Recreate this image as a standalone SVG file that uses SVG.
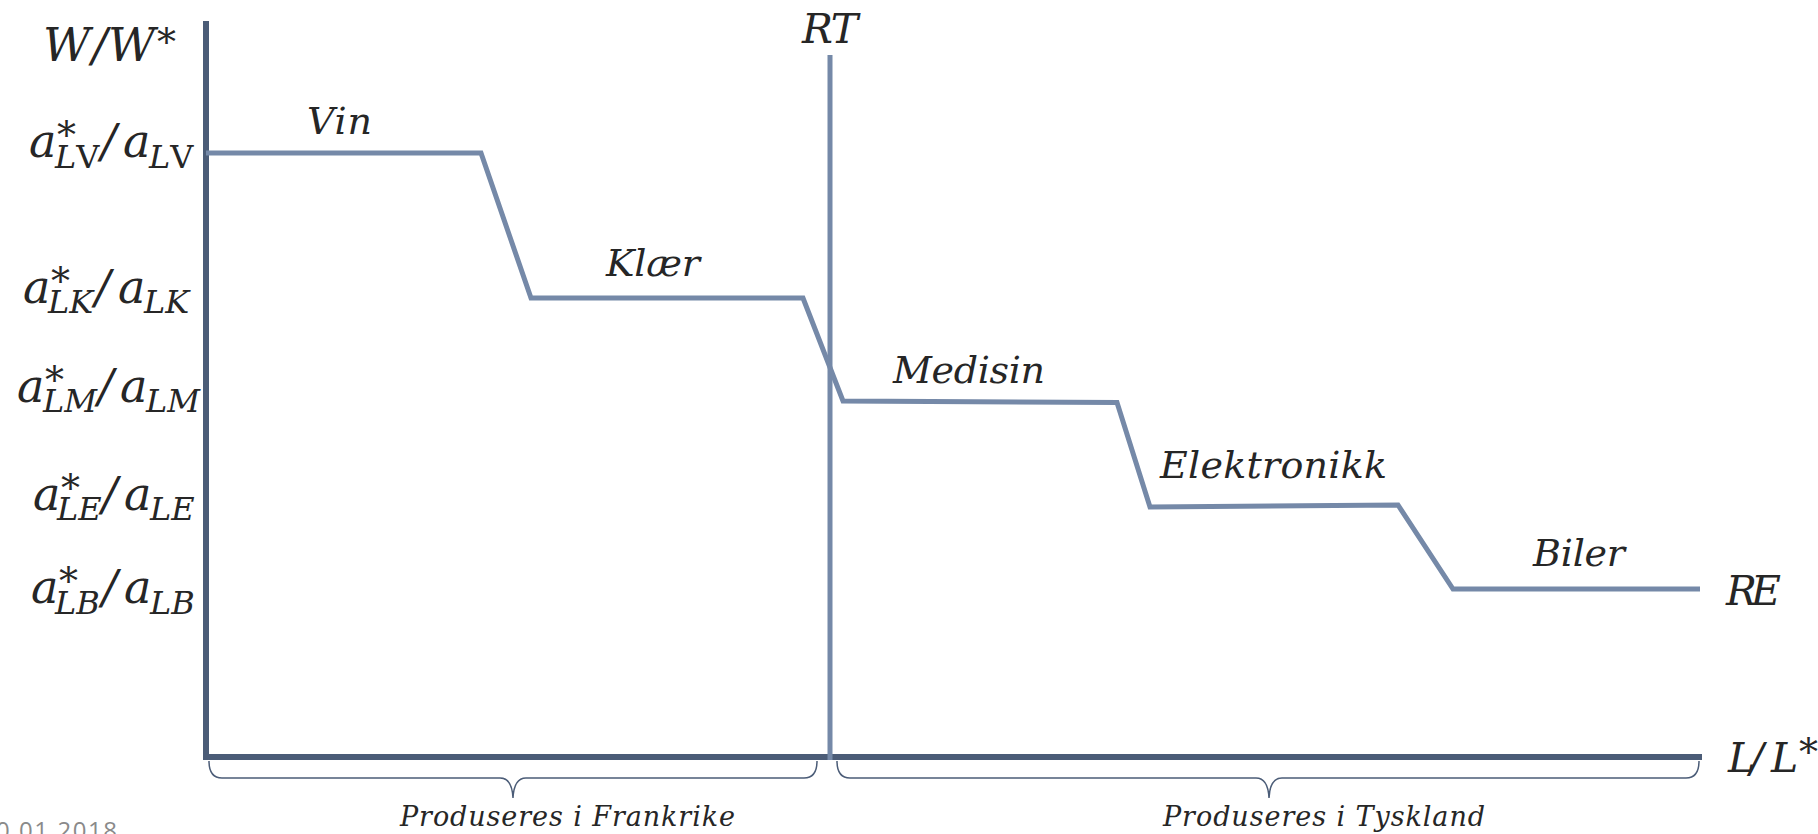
<svg xmlns="http://www.w3.org/2000/svg" width="1818" height="834" viewBox="0 0 1818 834">
<style>
.m{font-family:"DejaVu Serif","Liberation Serif",serif;font-style:italic;fill:#262626}
.big{font-size:46px}
.lab{font-size:41px}
.sub{font-size:32px}
.ast{font-size:38px}
.curl{font-size:38px}
.brl{font-size:27px}
.up{font-style:normal}
.axis{stroke:#4b5c77;stroke-width:6;fill:none}
.curve{stroke:#7589a8;stroke-width:5;fill:none;stroke-linejoin:miter}
.brace{stroke:#4b5c77;stroke-width:1.5;fill:none}
.date{font-family:"Open Sans","Liberation Sans",sans-serif;font-size:24px;fill:#8a8a8a}
</style>
<rect width="1818" height="834" fill="#ffffff"/>
<g id="axes">
<line class="axis" x1="206" y1="21" x2="206" y2="760"/>
<line class="axis" x1="203" y1="757" x2="1702" y2="757"/>
</g>
<g id="connectors">
<line x1="830" y1="55" x2="830" y2="760" stroke="#7589a8" stroke-width="5"/>
<polyline class="curve" points="206,153 481,153 531,298 803,298 843,401 1117,402.5 1150,507 1398,505 1453,589 1700,589"/>
<path class="brace" d="M209,761 Q209,778 222,778 L500,778 Q512,778 513,798 Q514,778 526,778 L804,778 Q817,778 817,761"/>
<path class="brace" d="M837,761 Q837,778 850,778 L1256,778 Q1268,778 1269,798 Q1270,778 1282,778 L1686,778 Q1699,778 1699,761"/>
</g>
<g id="label-WW">
<text class="m big"><tspan x="43" y="61">W</tspan><tspan x="92" y="61">/</tspan><tspan x="108" y="61">W</tspan><tspan class="ast" x="157" y="55">*</tspan></text>
</g>
<g id="label-LV">
<text class="m big"><tspan x="29" y="157">a</tspan><tspan class="ast" x="57" y="148">*</tspan><tspan class="sub" x="55" y="168">L<tspan class="up">V</tspan></tspan><tspan x="101" y="157">/</tspan><tspan x="123" y="157">a</tspan><tspan class="sub" x="149" y="168">L<tspan class="up">V</tspan></tspan></text>
</g>
<g id="label-LK">
<text class="m big"><tspan x="23" y="303">a</tspan><tspan class="ast" x="51" y="294">*</tspan><tspan class="sub" x="48" y="313">LK</tspan><tspan x="95" y="303">/</tspan><tspan x="118" y="303">a</tspan><tspan class="sub" x="144" y="313">LK</tspan></text>
</g>
<g id="label-LM">
<text class="m big"><tspan x="17" y="402">a</tspan><tspan class="ast" x="45" y="393">*</tspan><tspan class="sub" x="43" y="412">LM</tspan><tspan x="98" y="402">/</tspan><tspan x="120" y="402">a</tspan><tspan class="sub" x="146" y="412">LM</tspan></text>
</g>
<g id="label-LE">
<text class="m big"><tspan x="33" y="510">a</tspan><tspan class="ast" x="61" y="501">*</tspan><tspan class="sub" x="57" y="520">LE</tspan><tspan x="102" y="510">/</tspan><tspan x="124" y="510">a</tspan><tspan class="sub" x="150" y="520">LE</tspan></text>
</g>
<g id="label-LB">
<text class="m big"><tspan x="31" y="603">a</tspan><tspan class="ast" x="59" y="594">*</tspan><tspan class="sub" x="55" y="614">LB</tspan><tspan x="102" y="603">/</tspan><tspan x="124" y="603">a</tspan><tspan class="sub" x="150" y="614">LB</tspan></text>
</g>
<g id="label-RT"><text class="m lab" x="802" y="43" textLength="56">RT</text></g>
<g id="label-RE"><text class="m lab" x="1726" y="605" textLength="55">RE</text></g>
<g id="label-LL">
<text class="m lab"><tspan x="1728" y="772">L</tspan><tspan x="1750" y="772">/</tspan><tspan x="1771" y="772">L</tspan><tspan class="ast" x="1799" y="765">*</tspan></text>
</g>
<g id="seg-vin"><text class="m curl" x="307" y="134" textLength="65">Vin</text></g>
<g id="seg-klaer"><text class="m curl" x="606" y="276" textLength="94">Klær</text></g>
<g id="seg-medisin"><text class="m curl" x="893" y="383" textLength="152">Medisin</text></g>
<g id="seg-elektronikk"><text class="m curl" x="1160" y="478" textLength="227">Elektronikk</text></g>
<g id="seg-biler"><text class="m curl" x="1533" y="566" textLength="92">Biler</text></g>
<g id="brace-frankrike"><text class="m brl" x="400" y="826" textLength="335">Produseres i Frankrike</text></g>
<g id="brace-tyskland"><text class="m brl" x="1163" y="826" textLength="322">Produseres i Tyskland</text></g>
<text class="date" x="-4" y="839" textLength="121">0.01.2018</text>
</svg>
